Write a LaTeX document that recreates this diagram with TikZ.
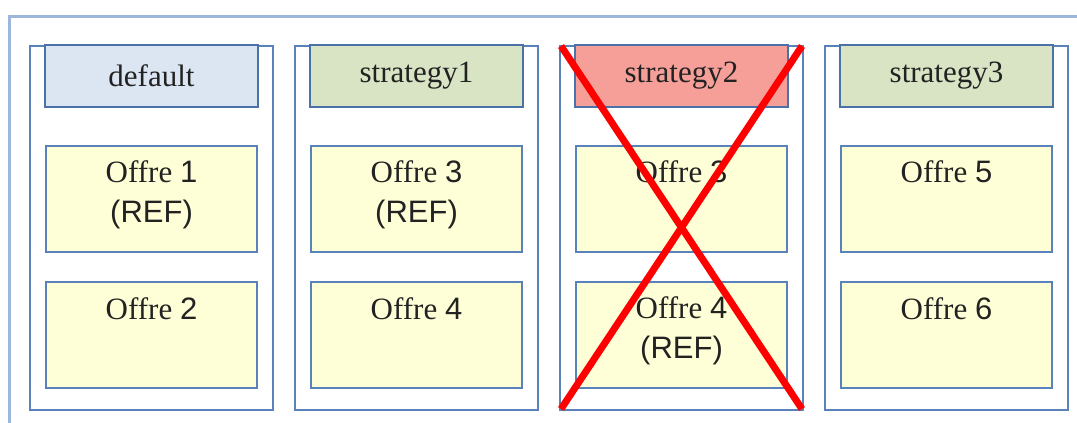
\documentclass[tikz,border=0pt]{standalone}
\usepackage{fontspec}
\setmainfont{Liberation Serif}
\newfontfamily\sansf{Liberation Sans}
\definecolor{framec}{HTML}{9DB7DA}
\definecolor{colc}{HTML}{5A82BA}
\definecolor{hdrc}{HTML}{4A72A8}
\definecolor{hblue}{HTML}{DCE6F2}
\definecolor{hgreen}{HTML}{D8E4C4}
\definecolor{hred}{HTML}{F59F98}
\definecolor{offc}{HTML}{FFFFD7}
\definecolor{txt}{HTML}{222222}
\begin{document}
\begin{tikzpicture}[x=1pt,y=-1pt,
  colbox/.style={draw=colc,line width=1.5pt,fill=white,minimum width=243pt,minimum height=364pt,inner sep=0pt,outer sep=0pt},
  hdr/.style={draw=hdrc,line width=1.5pt,minimum width=213pt,minimum height=62pt,inner sep=0pt,outer sep=0pt,font=\fontsize{31}{36}\selectfont,text=txt},
  offbox/.style={draw=colc,line width=1.2pt,fill=offc,minimum width=211pt,minimum height=106pt,inner sep=0pt,outer sep=0pt},
  offtxt/.style={anchor=north,inner sep=0pt,align=center,font=\fontsize{31}{40}\selectfont,text=txt},
  cross/.style={draw=red,line width=7pt}]
\useasboundingbox (0,0) rectangle (1077,423);
\fill[white] (0,0) rectangle (1077,423);
% outer frame
\coordinate (fa) at (9,424);
\coordinate (fb) at (9,16);
\coordinate (fc) at (1078,16);
\draw[framec,line width=3pt] (fa) -- (fb) -- (fc);
% columns
\node[colbox] (c1) at (151.5,228) {};
\node[colbox] (c2) at (416.5,228) {};
\node[colbox] (c3) at (681.5,228) {};
\node[colbox] (c4) at (946.5,228) {};
% headers
\node[hdr,fill=hblue] (h1) at (151.5,76) {default};
\node[hdr,fill=hgreen] (h2) at (416.5,76) {strategy1};
\node[hdr,fill=hred] (h3) at (681.5,76) {strategy2};
\node[hdr,fill=hgreen] (h4) at (946.5,76) {strategy3};
% offer boxes
\node[offbox] (o11) at (151.5,199) {};
\node[offbox] (o12) at (151.5,335) {};
\node[offbox] (o21) at (416.5,199) {};
\node[offbox] (o22) at (416.5,335) {};
\node[offbox] (o31) at (681.5,199) {};
\node[offbox] (o32) at (681.5,335) {};
\node[offbox] (o41) at (946.5,199) {};
\node[offbox] (o42) at (946.5,335) {};
% offer texts
\node[offtxt] (t11) at ([yshift=-14pt]o11.north) {Offre {\sansf 1}\\{\sansf (REF)}};
\node[offtxt] (t12) at ([yshift=-15pt]o12.north) {Offre {\sansf 2}};
\node[offtxt] (t21) at ([yshift=-14pt]o21.north) {Offre {\sansf 3}\\{\sansf (REF)}};
\node[offtxt] (t22) at ([yshift=-15pt]o22.north) {Offre {\sansf 4}};
\node[offtxt] (t31) at ([yshift=-14pt]o31.north) {Offre {\sansf 3}};
\node[offtxt] (t32) at ([yshift=-14pt]o32.north) {Offre {\sansf 4}\\{\sansf (REF)}};
\node[offtxt] (t41) at ([yshift=-14pt]o41.north) {Offre {\sansf 5}};
\node[offtxt] (t42) at ([yshift=-15pt]o42.north) {Offre {\sansf 6}};
% red cross
\coordinate (x1) at (561,46);
\coordinate (x2) at (802,409);
\coordinate (x3) at (802,46);
\coordinate (x4) at (561,409);
\draw[cross] (x1) -- (x2);
\draw[cross] (x3) -- (x4);
\end{tikzpicture}
\end{document}
